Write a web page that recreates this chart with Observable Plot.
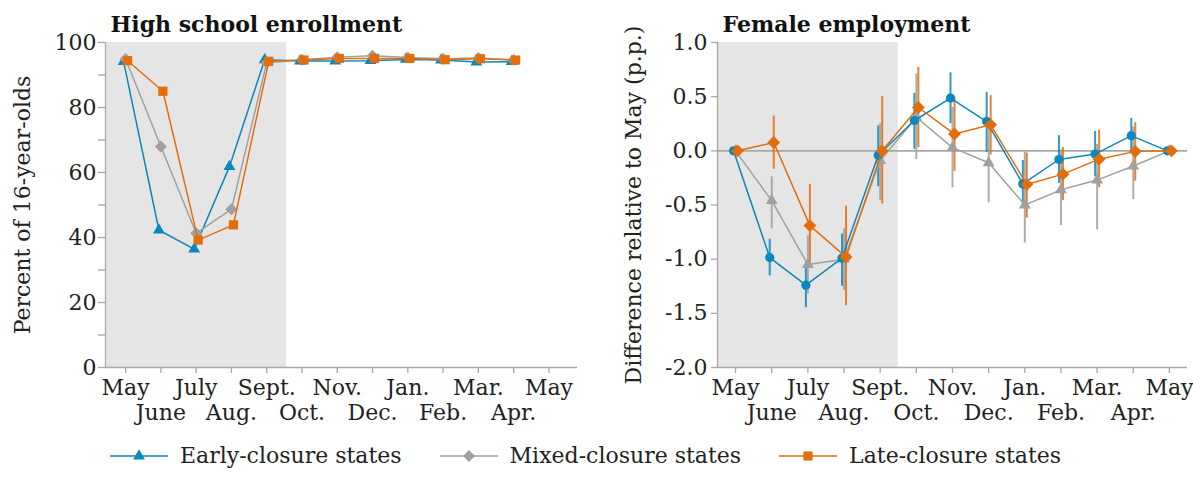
<!DOCTYPE html>
<html>
<head>
<meta charset="utf-8">
<script src="https://cdn.jsdelivr.net/npm/d3@7"></script>
<script src="https://cdn.jsdelivr.net/npm/@observablehq/plot@0.6"></script>
<style>
  html, body { margin: 0; padding: 0; background: white; }
  #wrap { position: relative; width: 1193px; height: 495px; font-family: "DejaVu Serif", serif; color: #222; }
  #left { position: absolute; left: 0; top: 0; }
  #right { position: absolute; left: 590px; top: 0; }
  #legend { position: absolute; left: 110px; top: 443px; display: flex; align-items: center; font-size: 22px; }
  .item { display: flex; align-items: center; margin-right: 38px; }
  .item svg { margin-right: 12px; }
</style>
</head>
<body>
<div id="wrap">
  <div id="left"></div>
  <div id="right"></div>
  <div id="legend"></div>
</div>
<script>
// ---------- data ----------
const months = ["May","June","July","Aug.","Sept.","Oct.","Nov.","Dec.","Jan.","Feb.","Mar.","Apr.","May"];
const groups = ["Early-closure states","Mixed-closure states","Late-closure states"];
const groupColors = ["#0a87bd","#a0a0a0","#e46c0a"];

// High school enrollment (percent of 16-year-olds), May .. Apr.
const enrollEarly = [94.1, 42.3, 36.4, 61.8, 94.7, 94.3, 94.3, 94.4, 94.8, 94.6, 94.0, 94.1];
const enrollMixed = [94.9, 68.0, 41.3, 48.7, 93.8, 94.7, 95.5, 95.9, 95.4, 95.0, 95.2, 94.6];
const enrollLate  = [94.4, 85.0, 39.2, 43.9, 94.2, 94.6, 95.1, 95.1, 95.1, 94.7, 95.0, 94.6];

// Female employment, difference relative to May (p.p.), May .. May
const empEarly   = [0, -0.985, -1.24, -0.99, -0.04, 0.28, 0.487, 0.27, -0.305, -0.08, -0.03, 0.14, 0];
const empEarlyLo = [0, -1.155, -1.447, -1.25, -0.33, 0.015, 0.25, -0.015, -0.52, -0.30, -0.24, -0.02, 0];
const empEarlyHi = [0, -0.815, -1.03, -0.77, 0.23, 0.53, 0.72, 0.54, -0.09, 0.14, 0.18, 0.30, 0];
const empMixed   = [0, -0.46, -1.05, -1.0, -0.09, 0.31, 0.03, -0.11, -0.50, -0.36, -0.27, -0.14, 0];
const empMixedLo = [0, -0.72, -1.32, -1.29, -0.46, -0.08, -0.34, -0.48, -0.85, -0.69, -0.73, -0.45, 0];
const empMixedHi = [0, -0.24, -0.785, -0.72, 0.25, 0.71, 0.40, 0.22, -0.01, 0.01, 0.06, 0.22, 0];
const empLate    = [0, 0.077, -0.69, -0.98, 0.0, 0.40, 0.155, 0.24, -0.31, -0.215, -0.077, -0.005, 0];
const empLateLo  = [0, -0.17, -1.07, -1.43, -0.49, 0.03, -0.19, -0.04, -0.62, -0.46, -0.34, -0.28, 0];
const empLateHi  = [0, 0.32, -0.31, -0.51, 0.50, 0.77, 0.49, 0.51, -0.02, 0.03, 0.19, 0.26, 0];

const closurePeriodEnd = 4.5; // shaded region ends between Sept. and Oct.

// ---------- helpers ----------
const fontStyle = {fontFamily: "'DejaVu Serif', serif", fontSize: "22px", color: "#222", background: "white", overflow: "visible"};
const axisGray = "#a8a8a8";
const offsets = [-2, 0, 2];

function series(values, g, lo, hi) {
  return values.map((v, i) => ({i, v, g, lo: lo ? lo[i] : null, hi: hi ? hi[i] : null}));
}

function xAxes() {
  const all = d3.range(months.length);
  return [
    Plot.axisX({ticks: all, label: null, tickSize: 6, tickPadding: 6, stroke: axisGray, strokeWidth: 1.3, fill: "#222",
      tickFormat: i => i % 2 === 0 ? months[i] : ""}),
    Plot.axisX({ticks: all.filter(i => i % 2 === 1), label: null, tickSize: 0, tickPadding: 37, fill: "#222",
      tickFormat: i => months[i]})
  ];
}

// ---------- left: High school enrollment ----------
const enrollSets = [
  {data: series(enrollEarly, 0), symbol: "triangle", r: 4.4},
  {data: series(enrollMixed, 1), symbol: "diamond2", r: 5.4},
  {data: series(enrollLate, 2), symbol: "square", r: 5.2}
];
const xL = [-0.57, 12.81];
const leftMarks = [
  Plot.rect([0], {x1: xL[0], x2: closurePeriodEnd + 0.06, y1: 0, y2: 100, fill: "#e5e5e5"}),
  Plot.ruleX([xL[0]], {stroke: axisGray, strokeWidth: 1.3}),
  Plot.ruleY([0], {stroke: axisGray, strokeWidth: 1.3}),
  Plot.axisY({ticks: [0, 20, 40, 60, 80, 100], label: null, tickSize: 7, tickPadding: 2, stroke: axisGray, strokeWidth: 1.3, fill: "#222"}),
  Plot.axisY({ticks: [10, 30, 50, 70, 90], label: null, tickSize: 7, tickFormat: () => "", stroke: axisGray, strokeWidth: 1.3}),
  ...xAxes(),
  Plot.text(["Percent of 16-year-olds"], {frameAnchor: "left", textAnchor: "middle", lineAnchor: "middle", rotate: -90, dx: -83, fill: "#222"}),
  Plot.text(["High school enrollment"], {frameAnchor: "top-left", textAnchor: "start", lineAnchor: "bottom", dx: 5, dy: -11, fontWeight: "bold", fill: "#111"})
];
enrollSets.forEach((s, k) => {
  leftMarks.push(Plot.line(s.data, {x: "i", y: "v", dx: offsets[k], stroke: groupColors[k], strokeWidth: 1.5}));
  leftMarks.push(Plot.dot(s.data, {x: "i", y: "v", dx: offsets[k], symbol: s.symbol, r: s.r, fill: groupColors[k], stroke: "none"}));
});
const left = Plot.plot({
  width: 590, height: 430, marginLeft: 105, marginRight: 13, marginTop: 42, marginBottom: 63,
  x: {domain: xL, axis: null},
  y: {domain: [0, 100], axis: null},
  style: fontStyle,
  marks: leftMarks
});
document.getElementById("left").append(left);

// ---------- right: Female employment ----------
const empSets = [
  {data: series(empMixed, 1, empMixedLo, empMixedHi), k: 1, symbol: "triangle", r: 4.4},
  {data: series(empEarly, 0, empEarlyLo, empEarlyHi), k: 0, symbol: "circle", r: 4.6},
  {data: series(empLate, 2, empLateLo, empLateHi), k: 2, symbol: "diamond2", r: 5.8}
];
const rightMarks = [
  Plot.rect([0], {x1: -0.5, x2: closurePeriodEnd, y1: -2, y2: 1, fill: "#e5e5e5"}),
  Plot.ruleY([0], {stroke: axisGray, strokeWidth: 1.6}),
  Plot.ruleX([-0.5], {stroke: axisGray, strokeWidth: 1.3}),
  Plot.ruleY([-2], {stroke: axisGray, strokeWidth: 1.3}),
  Plot.axisY({ticks: [-2, -1.5, -1, -0.5, 0, 0.5, 1], label: null, tickSize: 6, tickPadding: 4, stroke: axisGray, strokeWidth: 1.3, fill: "#222",
    tickFormat: d => d.toFixed(1)}),
  ...xAxes(),
  Plot.text(["Difference relative to May (p.p.)"], {frameAnchor: "left", textAnchor: "middle", lineAnchor: "middle", rotate: -90, dx: -84, fill: "#222"}),
  Plot.text(["Female employment"], {frameAnchor: "top-left", textAnchor: "start", lineAnchor: "bottom", dx: 5, dy: -11, fontWeight: "bold", fill: "#111"})
];
empSets.forEach(s => {
  rightMarks.push(Plot.ruleX(s.data.filter(d => d.lo !== d.hi), {x: "i", y1: "lo", y2: "hi", dx: offsets[s.k], stroke: groupColors[s.k], strokeWidth: 2, strokeOpacity: 0.85}));
});
empSets.forEach(s => {
  rightMarks.push(Plot.line(s.data, {x: "i", y: "v", dx: offsets[s.k], stroke: groupColors[s.k], strokeWidth: 1.5}));
  rightMarks.push(Plot.dot(s.data, {x: "i", y: "v", dx: offsets[s.k], symbol: s.symbol, r: s.r, fill: groupColors[s.k], stroke: "none"}));
});
const right = Plot.plot({
  width: 603, height: 430, marginLeft: 127, marginRight: 6, marginTop: 42, marginBottom: 63,
  x: {domain: [-0.5, 12.5], axis: null},
  y: {domain: [-2, 1], axis: null},
  style: fontStyle,
  marks: rightMarks
});
document.getElementById("right").append(right);

// ---------- legend ----------
const legendSymbols = [d3.symbolTriangle, d3.symbolDiamond2, d3.symbolSquare];
const legendSizes = [4.4, 5.4, 5.2].map(r => Math.PI * r * r);
const legend = d3.select("#legend");
groups.forEach((g, k) => {
  const item = legend.append("div").attr("class", "item");
  const svg = item.append("svg").attr("width", 58).attr("height", 20);
  svg.append("line").attr("x1", 0).attr("x2", 58).attr("y1", 10).attr("y2", 10)
    .attr("stroke", groupColors[k]).attr("stroke-width", 1.5);
  svg.append("path").attr("transform", "translate(29,10)")
    .attr("d", d3.symbol(legendSymbols[k], legendSizes[k])()).attr("fill", groupColors[k]);
  item.append("span").text(g);
});
</script>
</body>
</html>
